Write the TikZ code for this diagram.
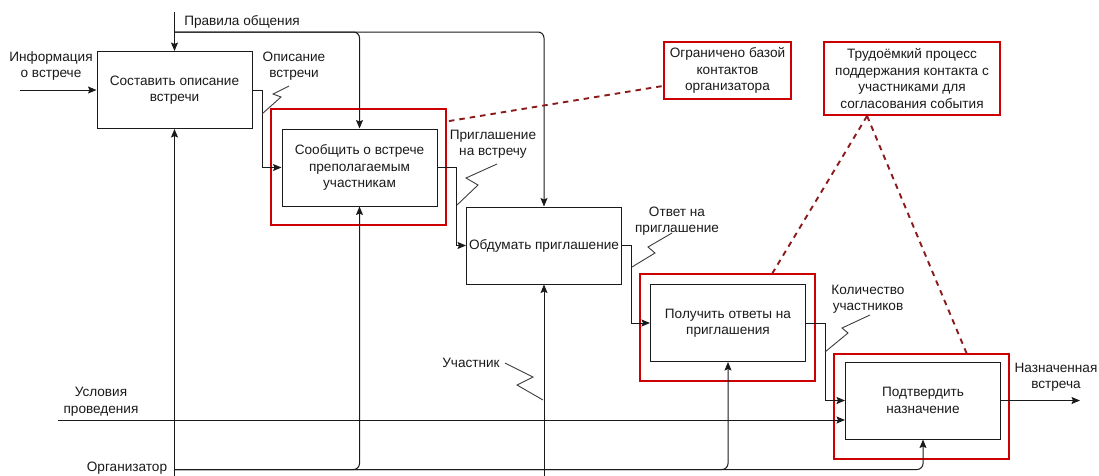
\documentclass[tikz,border=0pt]{standalone}
\usepackage{fontspec}
\setmainfont{Liberation Sans}
\usetikzlibrary{arrows.meta,calc}
\definecolor{frm}{HTML}{CC0000}
\definecolor{dred}{HTML}{8B1A1A}
\definecolor{ink}{HTML}{1A1A1A}
\begin{document}
\begin{tikzpicture}[x=1pt,y=-1pt,
  every node/.style={font=\fontsize{13.6}{16.5}\selectfont, text=ink},
  proc/.style={draw=ink, line width=1pt, minimum width=155pt, minimum height=77pt, inner sep=2pt, align=center},
  frame/.style={draw=frm, line width=1.9pt, inner sep=0pt},
  note/.style={draw=frm, line width=1.9pt, inner sep=2pt, align=center},
  lbl/.style={align=center, inner sep=0pt},
  arr/.style={draw=ink, line width=1pt, -{Stealth[length=8.5pt,width=7pt,inset=1.5pt]}},
  sq/.style={draw=ink!85, line width=0.9pt},
  dsh/.style={draw=dred, line width=1.9pt, dash pattern=on 5.5pt off 5pt}]
\useasboundingbox (0,0) rectangle (1099,475);

% red highlight frames
\node[frame, minimum width=175pt, minimum height=116pt] (f2) at (358.5,167) {};
\node[frame, minimum width=175pt, minimum height=107pt] (f4) at (727.5,327.5) {};
\node[frame, minimum width=175pt, minimum height=105pt] (f5) at (921.5,406.5) {};

% process boxes
\node[proc] (b1) at (174.5,90) {Составить описание\\встречи};
\node[proc] (b2) at (359.5,167.5) {Сообщить о встрече\\преполагаемым\\участникам};
\node[proc] (b3) at (544,245.5) {Обдумать приглашение};
\node[proc] (b4) at (728,323) {Получить ответы на\\приглашения};
\node[proc] (b5) at (923,400.5) {Подтвердить\\назначение};

% notes
\node[note, minimum width=127pt, minimum height=57pt] (n1) at (727.5,70.5) {Ограничено базой\\контактов\\организатора};
\node[note, minimum width=176pt, minimum height=73pt] (n2) at (912,78.5) {Трудоёмкий процесс\\поддержания контакта с\\участниками для\\согласования события};

% labels
\node[lbl] (lpr) at (242,22) {Правила общения};
\node[lbl] (lin) at (51,66) {Информация\\о встрече};
\node[lbl] (lop) at (294,66) {Описание\\встречи};
\node[lbl] (lpri) at (493,144) {Приглашение\\на встречу};
\node[lbl] (lotv) at (677,221) {Ответ на\\приглашение};
\node[lbl] (lkol) at (868,299) {Количество\\участников};
\node[lbl] (lnaz) at (1056,377) {Назначенная\\встреча};
\node[lbl] (lusl) at (101,401.5) {Условия\\проведения};
\node[lbl] (luch) at (471,363) {Участник};
\node[lbl] (lorg) at (127,468) {Организатор};

% free ends
\path (b1.north) ++(0,-39) coordinate (prtop);
\path (b1.north) ++(0,-19) coordinate (prj);
\path (b1.west) ++(-77,0) coordinate (infoin);
\coordinate (uslin) at (58,420);
\path (b1.south) ++(0,347) coordinate (orgbot);
\path (b1.south) ++(0,340.5) coordinate (orgj);
\path (b3.south) ++(0,191) coordinate (uchbot);
\path (b5.east) ++(79,0) coordinate (out);

% controls
\draw[arr] (prtop) -- (b1.north);
\draw[arr, rounded corners=6pt] (prj) -| (b2.north);
\draw[arr, rounded corners=6pt] (prj) -| (b3.north);

% inputs / outputs
\draw[arr] (infoin) -- (b1.west);
\draw[arr] (b1.east) -- ++(10,0) |- (b2.west);
\draw[arr] (b2.east) -- ++(19,0) |- (b3.west);
\draw[arr] (b3.east) -- ++(9,0) |- (b4.west);
\draw[arr] (b4.east) -- ++(19,0) |- (b5.west);
\draw[arr] (b5.east) -- (out);
\draw[arr] (uslin) -- (uslin -| b5.west);

% mechanisms
\draw[arr] (orgbot) -- (b1.south);
\draw[arr, rounded corners=6pt] (orgj) -| (b2.south);
\draw[arr, rounded corners=6pt] (orgj) -| (b4.south);
\draw[arr, rounded corners=6pt] (orgj) -| (b5.south);
\draw[arr] (uchbot) -- (b3.south);

% squiggles
\draw[sq] (262,114) -- (281,97) -- (273,94) -- (289,86);
\draw[sq] (457,205) -- (478,185) -- (466,178) -- (497,164);
\draw[sq] (632,267) -- (655,253) -- (648,247) -- (672,233);
\draw[sq] (825,352) -- (848,333) -- (842,328) -- (870,315);
\draw[sq] (505,363) -- (533,377) -- (517,385) -- (543,400);

% dashed annotation links
\coordinate (n2b) at ($(n2.south west)+(44,0)$);
\draw[dsh] ($(f2.north east)+(2,13)$) -- ($(n1.south west)+(0,-14)$);
\draw[dsh] (n2b) -- ($(f4.north)+(45,0)$);
\draw[dsh] (n2b) -- ($(f5.north)+(45,0)$);
\end{tikzpicture}
\end{document}
